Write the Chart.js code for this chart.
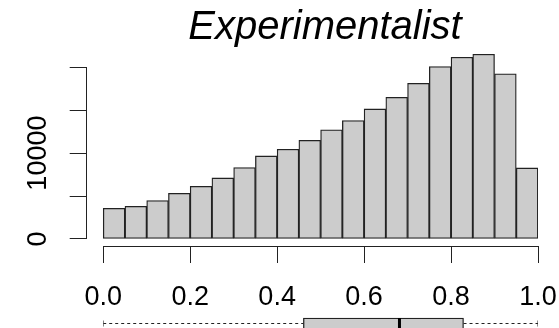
<!DOCTYPE html>
<html>
<head>
<meta charset="utf-8">
<script src="https://cdn.jsdelivr.net/npm/chart.js@4"></script>
<style>
  html, body { margin: 0; padding: 0; background: #fff; overflow: hidden; }
  #wrap { position: relative; width: 559px; height: 328px; }
  #hist { position: absolute; left: 0; top: 0; }
  #box { position: absolute; left: 0; top: 300px; }
</style>
</head>
<body>
<div id="wrap">
  <canvas id="hist" width="559" height="328"></canvas>
  <canvas id="box" width="559" height="47"></canvas>
</div>
<script>
const title = 'Experimentalist';

// histogram bins (midpoints) and counts
const binMid = [0.025, 0.075, 0.125, 0.175, 0.225, 0.275, 0.325, 0.375, 0.425, 0.475,
                0.525, 0.575, 0.625, 0.675, 0.725, 0.775, 0.825, 0.875, 0.925, 0.975];
const counts = [3570, 3810, 4470, 5320, 6140, 7110, 8310, 9670, 10450, 11490,
                12700, 13790, 15140, 16500, 18130, 20070, 21160, 21510, 19220, 8270];

const xTicks = [0, 0.2, 0.4, 0.6, 0.8, 1.0];
const yTicks = [0, 5000, 10000, 15000, 20000];
const yLabels = ['0', '', '10000', '', ''];

// boxplot summary
const whisker = [0, 1];
const quartiles = [0.4604, 0.8287];
const median = 0.6814;

const ink = '#222';
const fill = '#cccccc';
const font = '"Liberation Sans", Arial, Helvetica, sans-serif';

// R style axes: lines only from first to last tick, rotated y labels, title
const axisLines = {
  id: 'axisLines',
  afterDraw(chart) {
    const { ctx, scales: { x, y } } = chart;
    ctx.save();
    ctx.strokeStyle = ink;
    ctx.lineWidth = 1;
    ctx.beginPath();
    const xLineY = Math.round(x.top) + 0.5;
    ctx.moveTo(x.getPixelForValue(xTicks[0]), xLineY);
    ctx.lineTo(x.getPixelForValue(xTicks[xTicks.length - 1]), xLineY);
    const yLineX = Math.round(y.right) - 0.5;
    ctx.moveTo(yLineX, y.getPixelForValue(yTicks[0]));
    ctx.lineTo(yLineX, y.getPixelForValue(yTicks[yTicks.length - 1]));
    ctx.stroke();

    ctx.fillStyle = '#000';
    ctx.font = '27px ' + font;
    ctx.textAlign = 'center';
    ctx.textBaseline = 'alphabetic';
    yTicks.forEach((v, i) => {
      if (!yLabels[i]) return;
      ctx.save();
      ctx.translate(y.right - 41, y.getPixelForValue(v));
      ctx.rotate(-Math.PI / 2);
      ctx.fillText(yLabels[i], 0, 0);
      ctx.restore();
    });

    ctx.font = 'italic 40px ' + font;
    ctx.fillText(title, 325, 39);
    ctx.restore();
  }
};

new Chart(document.getElementById('hist'), {
  type: 'bar',
  data: {
    datasets: [{
      data: binMid.map((m, i) => ({ x: m, y: counts[i] })),
      backgroundColor: fill,
      borderColor: ink,
      borderWidth: 1.3,
      borderSkipped: false,
      barPercentage: 1,
      categoryPercentage: 1
    }]
  },
  options: {
    responsive: false,
    animation: false,
    layout: { padding: { top: 50, right: 21, left: 0, bottom: 0 } },
    plugins: { legend: { display: false }, tooltip: { enabled: false } },
    scales: {
      x: {
        type: 'linear', min: -0.038, max: 1, offset: false,
        afterBuildTicks: s => { s.ticks = xTicks.map(v => ({ value: v })); },
        afterFit: s => { s.height = 82; s.paddingLeft = 0; s.paddingRight = 0; },
        grid: { offset: false, drawOnChartArea: false, tickLength: 17, color: ink, lineWidth: 1 },
        border: { display: false },
        ticks: {
          font: { family: font, size: 27 }, color: '#000', padding: 18,
          maxRotation: 0, autoSkip: false, callback: v => v.toFixed(1)
        }
      },
      y: {
        min: -815, max: 22000,
        afterBuildTicks: s => { s.ticks = yTicks.map(v => ({ value: v })); },
        afterFit: s => { s.width = 86.7; },
        grid: { drawOnChartArea: false, tickLength: 17, color: ink, lineWidth: 1 },
        border: { display: false },
        ticks: { display: false }
      }
    }
  },
  plugins: [axisLines]
});

// horizontal boxplot under the histogram, same x mapping
new Chart(document.getElementById('box'), {
  type: 'bar',
  data: {
    datasets: [
      { type: 'scatter', data: [{ x: median, y: 0 }], pointStyle: 'line', rotation: 90,
        radius: 5.5, borderWidth: 3, borderColor: '#000' },
      { type: 'scatter', data: whisker.map(v => ({ x: v, y: 0 })), pointStyle: 'line', rotation: 90,
        radius: 3, borderWidth: 1, borderColor: ink },
      { type: 'bar', indexAxis: 'y', data: [{ x: quartiles, y: 0 }], backgroundColor: fill,
        borderColor: ink, borderWidth: 1.3, borderSkipped: false, barThickness: 11 },
      { type: 'line', data: [{ x: whisker[0], y: 0 }, { x: quartiles[0], y: 0 }],
        borderColor: ink, borderWidth: 1, borderDash: [3, 3], pointRadius: 0 },
      { type: 'line', data: [{ x: quartiles[1], y: 0 }, { x: whisker[1], y: 0 }],
        borderColor: ink, borderWidth: 1, borderDash: [3, 3], pointRadius: 0 }
    ]
  },
  options: {
    responsive: false,
    animation: false,
    layout: { padding: { left: 103.2, right: 21, top: 0, bottom: 0 } },
    plugins: { legend: { display: false }, tooltip: { enabled: false } },
    scales: {
      x: { type: 'linear', min: 0, max: 1, offset: false, display: false },
      y: { type: 'linear', min: -1, max: 1, offset: false, display: false }
    }
  }
});
</script>
</body>
</html>
